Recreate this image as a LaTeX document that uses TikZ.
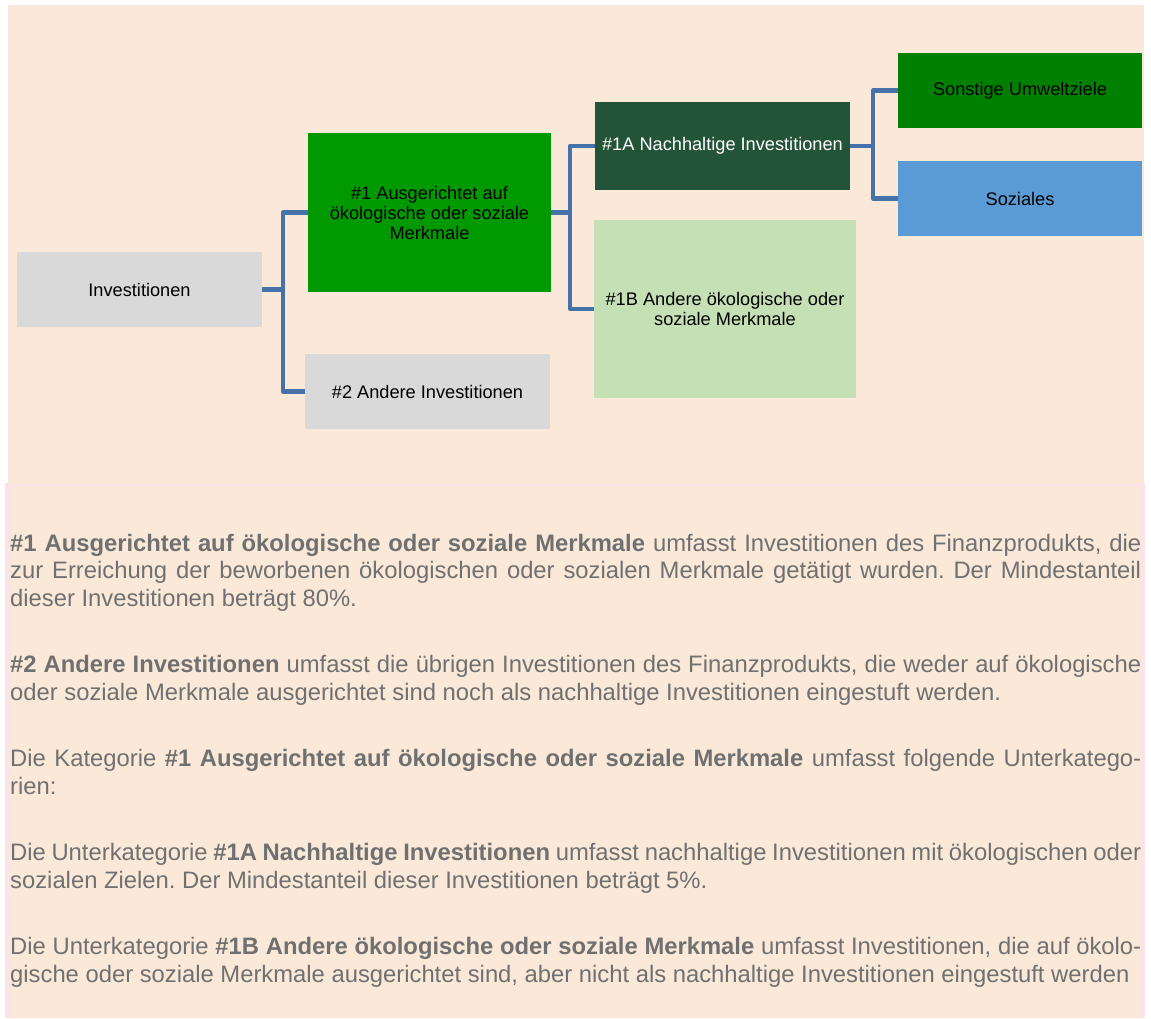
\documentclass[tikz,border=0pt]{standalone}
\usepackage{fontspec}
\setmainfont{Liberation Sans}
\frenchspacing
\definecolor{panelfill}{RGB}{250,233,216}
\definecolor{panelborder}{RGB}{253,228,228}
\definecolor{boxgray}{RGB}{217,217,217}
\definecolor{greenA}{RGB}{0,153,0}
\definecolor{greenDark}{RGB}{36,84,56}
\definecolor{greenLight}{RGB}{197,224,180}
\definecolor{greenB}{RGB}{0,128,0}
\definecolor{blueS}{RGB}{91,155,213}
\definecolor{conn}{RGB}{70,114,170}
\definecolor{txtgray}{RGB}{112,112,112}
\tikzset{
  box/.style={inner sep=0pt, align=center, font=\fontsize{18.2pt}{20pt}\selectfont, text=black},
  connector/.style={draw=conn, line width=4.5pt, line join=round},
  para/.style={anchor=base west, inner sep=0pt, text=txtgray, font=\fontsize{23.8pt}{27.5pt}\selectfont},
}
\newcommand{\jline}[1]{\makebox[1131pt][s]{#1}}
\begin{document}
\begin{tikzpicture}[x=1pt,y=-1pt]
  \fill[white] (0,0) rectangle (1151,1018);
  \useasboundingbox (0,0) rectangle (1151,1018);
  % panels
  \fill[panelfill,draw=panelborder,line width=1pt] (8.5,5.5) rectangle (1143,483);
  \fill[panelborder] (5,483) rectangle (1145,1018);
  \fill[panelfill] (10.5,486.5) rectangle (1139.5,1018);
  % boxes
  \node[box, fill=boxgray, minimum width=245pt, minimum height=75pt] (inv) at (139.5,289.5) {Investitionen};
  \node[box, fill=greenA, minimum width=243pt, minimum height=159pt] (g1) at (429.5,212.5) {\#1 Ausgerichtet auf\\ökologische oder soziale\\Merkmale};
  \node[box, fill=boxgray, minimum width=245pt, minimum height=75pt] (g2) at (427.5,391.5) {\#2 Andere Investitionen};
  \node[box, fill=greenDark, text=white, minimum width=255pt, minimum height=88pt] (g1a) at (722.5,146) {\#1A Nachhaltige Investitionen};
  \node[box, fill=greenLight, minimum width=262pt, minimum height=178pt] (g1b) at (725,309) {\#1B Andere ökologische oder\\soziale Merkmale};
  \node[box, fill=greenB, minimum width=244pt, minimum height=75pt] (sonst) at (1020,90.5) {Sonstige Umweltziele};
  \node[box, fill=blueS, minimum width=244pt, minimum height=75pt] (soz) at (1020,198.5) {Soziales};
  % connectors
  \draw[connector] (inv.east) -- ++(21,0) |- (g1.west);
  \draw[connector] (inv.east) -- ++(21,0) |- (g2.west);
  \draw[connector] (g1.east) -- ++(19,0) |- (g1a.west);
  \draw[connector] (g1.east) -- ++(19,0) |- (g1b.west);
  \draw[connector] (g1a.east) -- ++(23,0) |- (sonst.west);
  \draw[connector] (g1a.east) -- ++(23,0) |- (soz.west);
  % text
  \node[para] (p1a) at (10,551) {\jline{\textbf{\#1 Ausgerichtet auf ökologische oder soziale Merkmale} umfasst Investitionen des Finanzprodukts, die}};
  \node[para] (p1b) at (10,578.5) {\jline{zur Erreichung der beworbenen ökologischen oder sozialen Merkmale getätigt wurden. Der Mindestanteil}};
  \node[para] (p1c) at (10,606) {dieser Investitionen beträgt 80\%.};
  \node[para] (p2a) at (10,672.5) {\jline{\textbf{\#2 Andere Investitionen} umfasst die übrigen Investitionen des Finanzprodukts, die weder auf ökologische}};
  \node[para] (p2b) at (10,700) {oder soziale Merkmale ausgerichtet sind noch als nachhaltige Investitionen eingestuft werden.};
  \node[para] (p3a) at (10,766.5) {\jline{Die Kategorie \textbf{\#1 Ausgerichtet auf ökologische oder soziale Merkmale} umfasst folgende Unterkatego-}};
  \node[para] (p3b) at (10,794) {rien:};
  \node[para] (p4a) at (10,860.5) {\jline{Die Unterkategorie \textbf{\#1A Nachhaltige Investitionen} umfasst nachhaltige Investitionen mit ökologischen oder}};
  \node[para] (p4b) at (10,888) {sozialen Zielen. Der Mindestanteil dieser Investitionen beträgt 5\%.};
  \node[para] (p5a) at (10,954.5) {\jline{Die Unterkategorie \textbf{\#1B Andere ökologische oder soziale Merkmale} umfasst Investitionen, die auf ökolo-}};
  \node[para] (p5b) at (10,982) {gische oder soziale Merkmale ausgerichtet sind, aber nicht als nachhaltige Investitionen eingestuft werden};
\end{tikzpicture}
\end{document}
